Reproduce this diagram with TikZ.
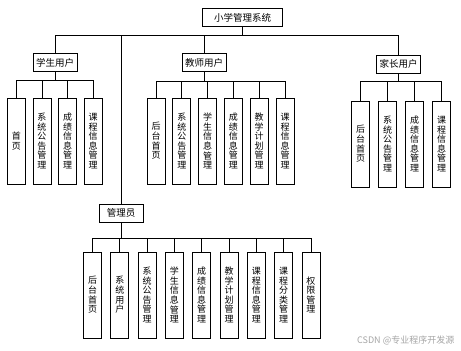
\documentclass[tikz,border=0pt]{standalone}
\usepackage{fontspec}
\setmainfont{Noto Sans CJK SC}
\usetikzlibrary{positioning}
% one character per line (argument is a macro holding the text)
\def\stackchars#1{\expandafter\stackcharsA#1\stopchars}
\def\stackcharsA#1#2\stopchars{#1\if\relax\detokenize{#2}\relax\else\\\stackcharsA#2\stopchars\fi}
\tikzset{
  every picture/.style={line width=0.8pt},
  head/.style={draw, fill=white, minimum width=44pt, minimum height=18pt, inner sep=2pt, font=\fontsize{9.5}{10}\selectfont},
  leaf/.style={draw, fill=white, minimum width=18pt, minimum height=86pt, align=center, inner sep=0pt, font=\fontsize{9}{9.6}\selectfont},
  link/.style={draw=black, line width=0.8pt},
  mark text/.style={text=black!35, font=\fontsize{9}{10}\selectfont},
}

\begin{document}
\begin{tikzpicture}[x=1pt, y=-1pt]
  \useasboundingbox[fill=white] (0,0) rectangle (461,351);
  % top level
  \node[head, minimum width=80pt] (root) at (242.5,17.5) {小学管理系统};
  \node[head] (stu) at (55,62.5) {学生用户};
  \node[head] (tea) at (204,62.5) {教师用户};
  \node[head] (par) at (398.5,64) {家长用户};
  \node[head] (adm) at (121,213) {管理员};
  % leaves
  \foreach \t [count=\i] in {首页,系统公告管理,成绩信息管理,课程信息管理}
    \node[leaf] (s\i) at ({16.5+25.5*(\i-1)},141) {\stackchars\t};
  \foreach \t [count=\i] in {后台首页,系统公告管理,学生信息管理,成绩信息管理,教学计划管理,课程信息管理}
    \node[leaf] (t\i) at ({156+25.8*(\i-1)},141) {\stackchars\t};
  \foreach \t [count=\i] in {后台首页,系统公告管理,成绩信息管理,课程信息管理}
    \node[leaf] (p\i) at ({360.5+27*(\i-1)},144) {\stackchars\t};
  \foreach \t [count=\i] in {后台首页,系统用户,系统公告管理,学生信息管理,成绩信息管理,教学计划管理,课程信息管理,课程分类管理,权限管理}
    \node[leaf] (a\i) at ({92.5+27.3*(\i-1)},295) {\stackchars\t};
  % links
  \foreach \b in {stu,tea,par,adm} \draw[link] (root.south) -- ++(0,8.5) -| (\b.north);
  \foreach \i in {1,...,4} \draw[link] (stu.south) -- ++(0,8) -| (s\i.north);
  \foreach \i in {1,...,6} \draw[link] (tea.south) -- ++(0,9) -| (t\i.north);
  \foreach \i in {1,...,4} \draw[link] (par.south) -- ++(0,7.5) -| (p\i.north);
  \foreach \i in {1,...,9} \draw[link] (adm.south) -- ++(0,16) -| (a\i.north);
  \node[mark text, anchor=east] (mark) at (458,340) {CSDN @专业程序开发源};
\end{tikzpicture}
\end{document}
